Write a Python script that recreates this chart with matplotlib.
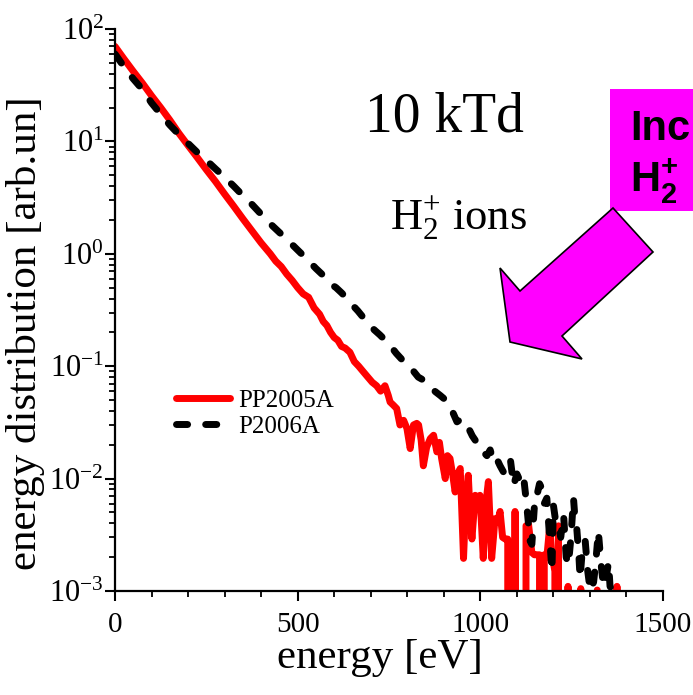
import numpy as np
import matplotlib
matplotlib.use("Agg")
import matplotlib.pyplot as plt
from matplotlib.patches import Polygon, Rectangle
from matplotlib.ticker import MultipleLocator, LogLocator

plt.rcParams['font.family'] = ['Liberation Serif', 'DejaVu Serif']
plt.rcParams['mathtext.fontset'] = 'stix'

# -------------------------------
# Data
# -------------------------------
red_energy = [0, 25, 50, 75, 100, 125, 150, 175, 200, 225, 250, 275, 300, 325,
              350, 375, 400, 425, 440, 455, 470, 485, 500, 515, 530, 545, 560,
              570, 580, 590, 600, 610, 620, 630, 643, 655, 667, 680, 692, 704,
              716, 727, 739, 748, 753, 762, 771, 780, 790, 799, 808, 817, 826,
              831, 838, 844, 853, 863, 872, 881, 888, 894, 904, 910, 917, 924,
              931, 938, 945, 954, 960, 967, 972, 977, 986, 993, 999, 1008, 1015,
              1022, 1031, 1036, 1040, 1047, 1054, 1061, 1068, 1075, 1080, 1088,
              1095, 1102, 1110, 1118, 1125, 1132, 1141, 1148, 1155, 1162, 1168,
              1175, 1182, 1190, 1196, 1204, 1210, 1214, 1222, 1232, 1240, 1250,
              1262, 1275, 1290, 1305, 1320, 1335, 1350, 1362, 1374, 1382]
red_values = [70, 54, 42, 33, 25.5, 20, 15.5, 11.8, 9.2, 7.2, 5.6, 4.4, 3.4, 2.65,
              2.05, 1.6, 1.25, 1.0, 0.86, 0.77, 0.66, 0.58, 0.5, 0.44, 0.41, 0.33, 0.29,
              0.25, 0.23, 0.2, 0.18, 0.17, 0.15, 0.145, 0.133, 0.11, 0.10, 0.089, 0.08, 0.072,
              0.067, 0.06, 0.067, 0.055, 0.048, 0.045, 0.042, 0.03, 0.033, 0.028, 0.0185, 0.03, 0.031,
              0.03, 0.022, 0.013, 0.019, 0.0227, 0.0243, 0.0173, 0.021, 0.0151, 0.010, 0.016, 0.0151, 0.011,
              0.0076, 0.011, 0.0123, 0.00195, 0.006, 0.0107, 0.005, 0.0029, 0.0071, 0.0068, 0.0071, 0.00195, 0.006,
              0.0094, 0.00195, 0.003, 0.0044, 0.0041, 0.0051, 0.003, 0.0029, 0.0029, 0, 0,
              0.0051, 0, 0, 0, 0.0038, 0.0039, 0.0022, 0.0021, 0.0021, 0.0021, 0,
              0.0021, 0.002, 0.0038, 0.0021, 0.0015, 0, 0.0038, 0, 0, 0.0011, 0,
              0, 0.00105, 0, 0, 0.00102, 0, 0, 0, 0.0011, 0]

black_energy = [0, 25, 50, 75, 100, 125, 150, 175, 200, 225, 250, 275, 300, 325,
                350, 375, 400, 425, 450, 475, 500, 525, 550, 575, 590, 605, 620,
                635, 650, 665, 680, 695, 710, 725, 740, 755, 770, 785, 800, 815,
                830, 845, 860, 875, 890, 905, 917, 926, 936, 948, 958, 968, 978,
                990, 1000, 1010, 1018, 1027, 1036, 1045, 1054, 1063, 1072, 1082,
                1091, 1100, 1109, 1118, 1127, 1136, 1141, 1150, 1155, 1162, 1168,
                1175, 1182, 1191, 1196, 1200, 1207, 1214, 1220, 1228, 1235, 1241,
                1248, 1255, 1260, 1264, 1270, 1273, 1280, 1287, 1294, 1301, 1310,
                1316, 1323, 1330, 1337, 1344, 1351, 1355, 1362, 1370]
black_values = [60, 46, 36, 29, 22, 17.5, 14, 11.5, 9.6, 8.0, 6.8, 5.7, 4.8, 4.0,
                3.3, 2.75, 2.25, 1.85, 1.55, 1.3, 1.08, 0.9, 0.74, 0.62, 0.54, 0.5, 0.45,
                0.4, 0.35, 0.31, 0.27, 0.235, 0.21, 0.19, 0.17, 0.15, 0.13, 0.115, 0.10, 0.092,
                0.08, 0.075, 0.068, 0.06, 0.055, 0.05, 0.045, 0.038, 0.032, 0.034, 0.03, 0.028, 0.024,
                0.021, 0.02, 0.017, 0.016, 0.018, 0.014, 0.015, 0.013, 0.0115, 0.012, 0.015,
                0.0087, 0.011, 0.0095, 0.0107, 0.0058, 0.0028, 0.0026, 0.0071, 0.0071, 0.009, 0.0082,
                0.006, 0.0067, 0.0026, 0.0015, 0.0058, 0.004, 0.0039, 0.003, 0.0047, 0.002, 0.0017,
                0.003, 0.0067, 0.004, 0.0036, 0.002, 0.0013, 0.0025, 0.0028, 0.0015, 0.001, 0.0012,
                0.0018, 0.0034, 0.0018, 0.0011, 0.0013, 0.0018, 0.0011, 0.001, 0]

x_ticks = [0, 500, 1000, 1500]

W, H = 693, 695

fig = plt.figure(figsize=(W / 100, H / 100), dpi=100)
ax = fig.add_axes([115 / W, 1 - 591 / H, 548 / W, 562 / H])

ax.plot(red_energy, red_values, color="#ff0000", lw=5, solid_joinstyle="round",
        solid_capstyle="round", label="PP2005A", zorder=2)
ax.plot(black_energy, black_values, color="black", lw=5, dashes=(1.6, 2.6),
        dash_capstyle="round", dash_joinstyle="round", label="P2006A", zorder=3)

ax.set_yscale("log")
ax.set_xlim(0, 1500)
ax.set_ylim(1e-3, 1e2)

ax.set_xticks(x_ticks)
ax.xaxis.set_minor_locator(MultipleLocator(100))
ax.yaxis.set_major_locator(LogLocator(base=10, numticks=10))
ax.yaxis.set_minor_locator(LogLocator(base=10, subs=np.arange(2, 10), numticks=10))

for s in ["top", "right"]:
    ax.spines[s].set_visible(False)
for s in ["left", "bottom"]:
    ax.spines[s].set_linewidth(1.6)

ax.tick_params(which="major", direction="out", length=7, width=1.5)
ax.tick_params(which="minor", direction="out", length=4, width=1.3)
ax.tick_params(axis="y", which="major", pad=1, labelsize=22)
ax.tick_params(axis="x", which="major", pad=8, labelsize=21)

# labels
fig.text(380 / W, 1 - 658 / H, "energy [eV]", fontsize=31, ha="center", va="center")
fig.text(26 / W, 1 - 333 / H, "energy distribution [arb.un]", fontsize=31,
         rotation=90, ha="center", va="center")

# annotations
fig.text(365 / W, 1 - 132 / H, "10 kTd", fontsize=40, ha="left", va="baseline")
fig.text(390 / W, 1 - 230 / H, r"$\mathdefault{H_2^{+}}$ ions", fontsize=32,
         ha="left", va="baseline")

leg = ax.legend(loc="center left", bbox_to_anchor=(0.111, 0.316), frameon=False,
                fontsize=18, handlelength=2.16, handletextpad=0.34,
                labelspacing=0.15, borderpad=0, borderaxespad=0)

# magenta box and arrow (figure pixel coordinates)
box = Rectangle((610 / W, 1 - 211 / H), 100 / W, 122 / H, facecolor="#ff00ff",
                edgecolor="none", transform=fig.transFigure)
fig.patches.append(box)
fig.text(630 / W, 1 - 140 / H, "Inc", fontsize=30, fontfamily="Liberation Sans",
         fontweight="bold", ha="left", va="baseline")
fig.text(630 / W, 1 - 192 / H, r"$\mathdefault{H_2^{+}}$", fontsize=30,
         fontfamily="Liberation Sans", fontweight="bold", ha="left", va="baseline")

arrow_px = [(613, 208), (653, 252), (562, 336), (582, 359), (510, 342),
            (500, 268), (520, 291)]
arrow = Polygon([(x / W, 1 - y / H) for x, y in arrow_px], closed=True,
                facecolor="#ff00ff", edgecolor="black", lw=1.2,
                transform=fig.transFigure)
fig.patches.append(arrow)

plt.savefig("out.png", dpi=100)
